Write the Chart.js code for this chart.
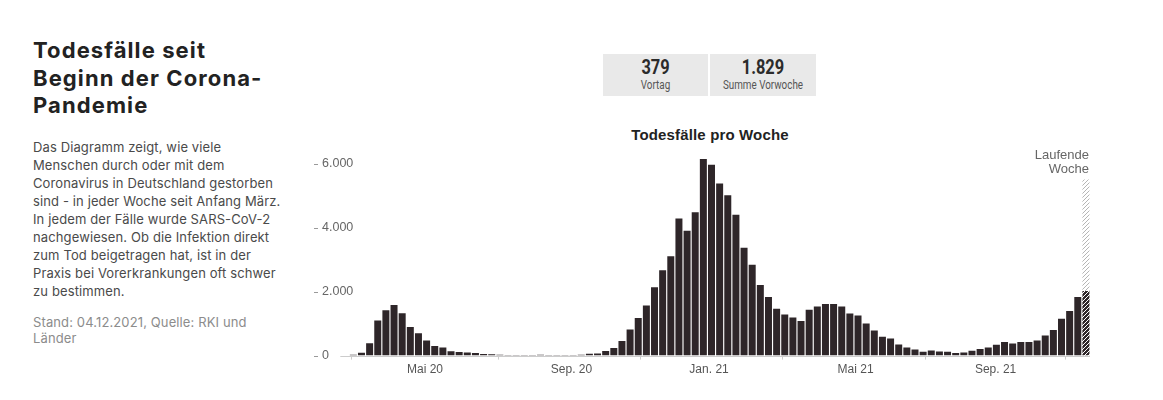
<!DOCTYPE html>
<html lang="de">
<head>
<meta charset="utf-8">
<title>Todesfälle seit Beginn der Corona-Pandemie</title>
<script src="https://cdn.jsdelivr.net/npm/chart.js@4/dist/chart.umd.min.js"></script>
<style>
  html, body { margin: 0; padding: 0; background: #fff; }
  body { width: 1163px; height: 400px; position: relative; overflow: hidden; }
  .title {
    position: absolute; left: 33px; top: 37px;
    font: bold 22px/27.5px Inter, "Noto Sans", sans-serif; color: #222;
    letter-spacing: 1.1px;
  }
  .text {
    position: absolute; left: 33px; top: 138px;
    font: 13px/18px Inter, "Noto Sans", sans-serif; color: #4a4a4a;
    letter-spacing: 0.12px; white-space: nowrap;
  }
  .source {
    position: absolute; left: 33px; top: 314px;
    font: 13px/16px Inter, "Noto Sans", sans-serif; color: #8c8c8c;
    letter-spacing: 0.12px; white-space: nowrap;
  }
  .box {
    position: absolute; top: 54px; height: 42px; background: #e9e9e9;
    text-align: center; font-family: Roboto, sans-serif;
  }
  .box .num { font-weight: bold; font-size: 20px; line-height: 20px; color: #2b2b2b; margin-top: 3px; transform: scaleX(0.82); }
  .box .lbl { font-size: 12px; line-height: 14px; color: #555; margin-top: 1px; transform: scaleX(0.82); }
  .chart-title {
    position: absolute; left: 560px; width: 300px; top: 126px; text-align: center;
    font: bold 15px/18px "Liberation Sans", Arial, sans-serif; color: #222; letter-spacing: 0.15px;
  }
  #chart { position: absolute; left: 300px; top: 140px; }
</style>
</head>
<body>
<div class="title">Todesfälle seit<br>Beginn der Corona-<br>Pandemie</div>
<div class="text">Das Diagramm zeigt, wie viele<br>Menschen durch oder mit dem<br>Coronavirus in Deutschland gestorben<br>sind - in jeder Woche seit Anfang März.<br>In jedem der Fälle wurde SARS-CoV-2<br>nachgewiesen. Ob die Infektion direkt<br>zum Tod beigetragen hat, ist in der<br>Praxis bei Vorerkrankungen oft schwer<br>zu bestimmen.</div>
<div class="source">Stand: 04.12.2021, Quelle: RKI und<br>Länder</div>

<div class="box" style="left:603px; width:105px;"><div class="num">379</div><div class="lbl">Vortag</div></div>
<div class="box" style="left:710px; width:106px;"><div class="num">1.829</div><div class="lbl">Summe Vorwoche</div></div>

<div class="chart-title">Todesfälle pro Woche</div>
<canvas id="chart" width="820" height="250"></canvas>

<script>
// weekly deaths, first bar = early March 2020, last bar = current (running) week
const deaths = [
  5, 30, 90, 385, 1094, 1417, 1583, 1323, 896, 698,
  469, 302, 250, 135, 115, 94, 83, 52, 45, 30,
  20, 18, 20, 22, 30, 20, 18, 15, 15, 25,
  55, 63, 146, 240, 458, 813, 1177, 1563, 2136, 2667,
  3105, 4283, 3897, 4481, 6137, 5960, 5377, 5012, 4397, 3370,
  2839, 2203, 1828, 1464, 1286, 1193, 1078, 1432, 1536, 1609,
  1609, 1536, 1318, 1255, 1005, 786, 589, 536, 349, 255,
  193, 120, 161, 130, 120, 78, 99, 151, 203, 255,
  339, 422, 380, 422, 422, 474, 630, 797, 1151, 1391,
  1829, 2016
];
const xTickPos = [9.8, 27.8, 44.7, 62.7, 79.9];
const xTickLabels = ['Mai 20', 'Sep. 20', 'Jan. 21', 'Mai 21', 'Sep. 21'];
const yTicks = [0, 2000, 4000, 6000];
const yMax = 6400;
const runningWeekTop = 5500;
const runningWeekLabel = ['Laufende', 'Woche'];

const barColor = '#2e2629';
const last = deaths.length - 1;

function makeHatch(bg, fg) {
  const c = document.createElement('canvas');
  c.width = 4; c.height = 4;
  const g = c.getContext('2d');
  g.fillStyle = bg; g.fillRect(0, 0, 4, 4);
  g.strokeStyle = fg; g.lineWidth = 1;
  g.beginPath();
  g.moveTo(0, 4); g.lineTo(4, 0);
  g.moveTo(-1, 1); g.lineTo(1, -1);
  g.moveTo(3, 5); g.lineTo(5, 3);
  g.stroke();
  return g.createPattern(c, 'repeat');
}
const darkHatch = makeHatch(barColor, '#ffffff');
const lightHatch = makeHatch('#ffffff', '#b5b5b5');

function fmt(v) {
  return String(v).replace(/\B(?=(\d{3})+(?!\d))/g, '.');
}

const extras = {
  id: 'extras',
  beforeDatasetsDraw(chart) {
    const { ctx, chartArea, scales: { x, y } } = chart;
    // zero line, starting just before the first bar
    const py = Math.round(y.getPixelForValue(0)) + 0.5;
    ctx.save();
    ctx.strokeStyle = '#cccccc';
    ctx.lineWidth = 1;
    ctx.beginPath();
    ctx.moveTo(x.getPixelForValue(-0.6), py);
    ctx.lineTo(chartArea.right, py);
    ctx.stroke();
    ctx.restore();
  },
  afterDraw(chart) {
    const { ctx, scales: { x, y } } = chart;
    ctx.save();
    // little dashes in front of the y labels
    ctx.strokeStyle = '#9a9a9a';
    ctx.lineWidth = 1;
    yTicks.forEach(v => {
      const py = Math.round(y.getPixelForValue(v)) + 0.5;
      ctx.beginPath();
      ctx.moveTo(y.right - 8, py);
      ctx.lineTo(y.right - 4, py);
      ctx.stroke();
    });
    // label of the running week
    ctx.fillStyle = '#666';
    ctx.font = '13px "Liberation Sans", Arial, sans-serif';
    ctx.textAlign = 'right';
    ctx.textBaseline = 'middle';
    const rx = x.getPixelForValue(last + 0.5) - 1;
    const top = y.getPixelForValue(runningWeekTop);
    ctx.fillText(runningWeekLabel[0], rx, top - 24);
    ctx.fillText(runningWeekLabel[1], rx, top - 10);
    ctx.restore();
  }
};

new Chart(document.getElementById('chart'), {
  type: 'bar',
  data: {
    datasets: [
      {
        data: deaths.map((v, i) => ({ x: i, y: v })),
        backgroundColor: c => c.dataIndex === last ? darkHatch : barColor,
        barPercentage: 0.86,
        categoryPercentage: 1
      },
      {
        data: [{ x: last, y: [deaths[last], runningWeekTop] }],
        backgroundColor: lightHatch,
        barPercentage: 0.86,
        categoryPercentage: 1,
        grouped: false
      }
    ]
  },
  options: {
    responsive: false,
    animation: false,
    layout: { padding: { left: 22, right: 30, top: 10.7, bottom: 10 } },
    plugins: {
      legend: { display: false },
      tooltip: { enabled: false }
    },
    scales: {
      x: {
        type: 'linear',
        min: -2.85,
        max: last + 0.5,
        offset: false,
        afterBuildTicks: s => { s.ticks = xTickPos.map(v => ({ value: v })); },
        grid: { drawOnChartArea: false, tickLength: 4, color: '#cccccc' },
        border: { display: false },
        ticks: {
          autoSkip: false,
          maxRotation: 0,
          padding: 3,
          color: '#555',
          font: { family: '"Liberation Sans", Arial, sans-serif', size: 12 },
          callback: (v, i) => xTickLabels[i]
        }
      },
      y: {
        min: 0,
        max: yMax,
        afterBuildTicks: s => { s.ticks = yTicks.map(v => ({ value: v })); },
        afterFit: s => { s.width = 0; },
        grid: { display: false },
        border: { display: false },
        ticks: {
          mirror: true,
          crossAlign: 'near',
          padding: 0,
          color: '#666',
          font: { family: '"Liberation Sans", Arial, sans-serif', size: 12.5 },
          callback: v => fmt(v)
        }
      }
    }
  },
  plugins: [extras]
});
</script>
</body>
</html>
